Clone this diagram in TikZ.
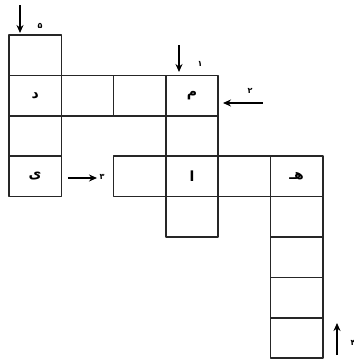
\documentclass[tikz,border=0pt]{standalone}
\usepackage{fontspec}
\usetikzlibrary{arrows.meta}
\newfontfamily\arabicfont[Script=Arabic]{DejaVu Sans}
\TeXXeTstate=1
\newcommand{\ar}[1]{{\arabicfont\bfseries\beginR #1\endR}}
\begin{document}
\begin{tikzpicture}[x=1pt,y=-1pt,line join=round,>={Stealth[length=8pt,width=7pt]},
	cell/.style={draw=black!85,line width=1.5pt,minimum width=52.3pt,minimum height=40.4pt,inner sep=0pt,font=\fontsize{14}{14}\selectfont},
	num/.style={inner sep=0pt,font=\fontsize{8}{8}\selectfont},
	arr/.style={->,line width=1.3pt}]
				\useasboundingbox (0,0) rectangle (354,360);
				\foreach \i/\j/\t in {0/0/{},0/1/\ar{د},0/2/{},0/3/\ar{ی},1/1/{},2/1/{},3/1/\ar{م},3/2/{},3/3/\ar{ا},3/4/{},2/3/{},4/3/{},5/3/\ar{هـ},5/4/{},5/5/{},5/6/{},5/7/{}}{
					\node[cell] (c\i\j) at (35.15+52.3*\i,55.2+40.4*\j) {\t};
				};
				\path 
				(20,5) coordinate (A5)
				(20,33) coordinate (B5)
				(179,45) coordinate (A1)
				(179,72) coordinate (B1)
				(263,103) coordinate (A2)
				(223,103) coordinate (B2)
				(68,178) coordinate (A3)
				(97,178) coordinate (B3)
				(337,355) coordinate (A4)
				(337,323) coordinate (B4)
				;
				\foreach \x/\g/\p in {5/{(40,26)}/۵,1/{(200,64)}/۱,2/{(250,91)}/۲,3/{(102,177)}/۳,4/{(353,343)}/۴}{
					\draw[arr] (A\x)--(B\x);
					\node[num] (n\x) at \g {\ar{\p}};
				};
			\end{tikzpicture}
\end{document}
